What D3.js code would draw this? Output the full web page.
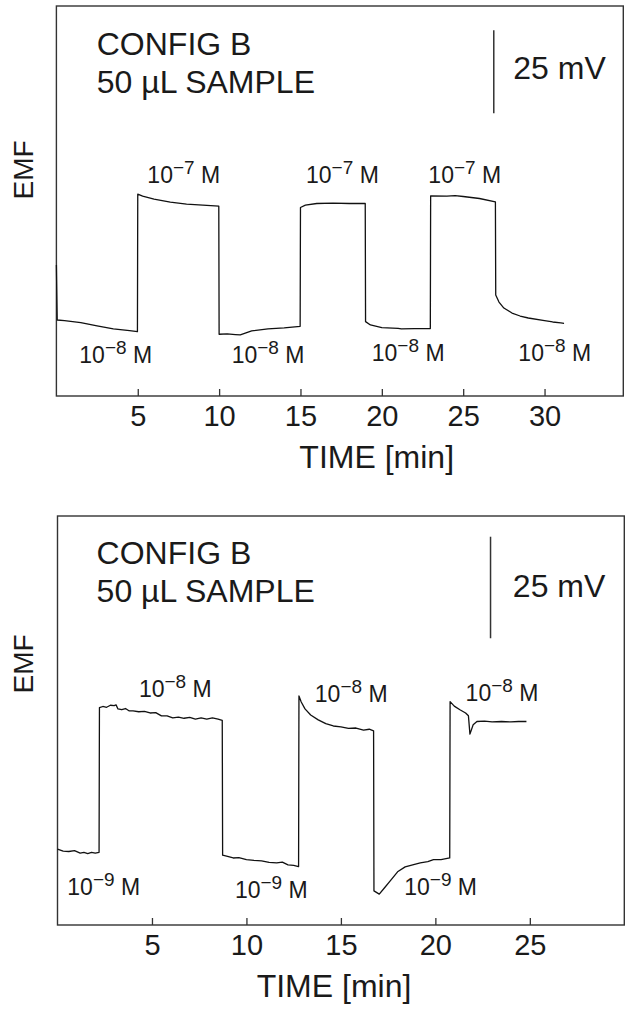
<!DOCTYPE html>
<html>
<head>
<meta charset="utf-8">
<script src="https://cdn.jsdelivr.net/npm/d3@7"></script>
<style>
    body { margin: 0; background: #fff; }
    svg text { font-family: "Liberation Sans", Arial, Helvetica, sans-serif; fill: #1a1a1a; }
</style>
</head>
<body>
<div id="chart"></div>
<script>
// panel A: 10^-8 / 10^-7 M switching, time in min, EMF in mV (relative)
const timeA = [0, 0.05, 0.5, 1.5, 2.5, 3.5, 4.5, 4.98,
    5.0, 5.3, 6, 7, 8, 9, 9.98,
    10.0, 10.5, 11, 11.3, 12, 13, 14, 14.98,
    15.0, 15.3, 16, 17, 18, 18.98,
    19.0, 19.3, 20, 21, 21.2, 22, 22.98,
    23.0, 24, 24.5, 25, 26, 26.98,
    27.0, 27.2, 27.5, 28, 28.5, 29, 30, 30.5, 31, 31.2];
const emfA = [39.5, 22.9, 22.7, 22.1, 21.1, 20.2, 19.7, 19.4,
    60.8, 60.2, 59.3, 58.4, 57.8, 57.5, 57.2,
    18.6, 18.7, 18.5, 18.4, 19.6, 20.2, 20.5, 21.0,
    56.8, 57.5, 58.0, 58.1, 58.0, 58.0,
    22.4, 21.4, 20.6, 20.4, 20.2, 20.3, 20.3,
    60.3, 60.2, 60.4, 60.1, 59.5, 58.5,
    30.4, 28.3, 26.5, 25.0, 24.1, 23.5, 22.7, 22.3, 22.0, 21.9];

// panel B: 10^-9 / 10^-8 M switching
const timeB = [0, 0.3, 0.6, 0.9, 1.2, 1.4, 1.6, 1.8, 2.0, 2.2,
    2.22, 2.4, 2.6, 2.8, 3.0, 3.1, 3.2, 3.4, 3.6, 3.8, 4.0, 4.3, 4.6, 4.9, 5.2,
    5.5, 5.8, 6.1, 6.4, 6.7, 7.0, 7.3, 7.6, 7.9, 8.2, 8.5, 8.72,
    8.74, 9.0, 9.3, 9.6, 10, 10.4, 10.8, 11.2, 11.6, 11.9, 12.2, 12.5, 12.76,
    12.78, 12.9, 13.1, 13.4, 13.8, 14.2, 14.6, 15.0, 15.4, 15.8, 16.2, 16.5, 16.73,
    16.75, 17.03, 17.3, 17.6, 18.0, 18.4, 18.8, 19.2, 19.6, 19.9, 20.3, 20.76,
    20.78, 21.0, 21.3, 21.6, 21.75, 21.83, 22.0, 22.2, 22.6, 23.0, 23.5, 24.0, 24.4, 24.82];
const emfB = [18.7, 18.2, 18.1, 18.3, 17.7, 17.9, 17.6, 17.9, 17.7, 17.9,
    53.5, 53.8, 53.6, 54.1, 54.0, 54.2, 53.2, 53.0, 53.3, 52.7, 52.7, 52.5, 52.6, 52.2, 52.3,
    51.5, 51.5, 51.0, 51.2, 50.9, 51.1, 50.7, 51.0, 50.7, 51.0, 50.7, 50.4,
    17.2, 16.9, 16.5, 16.6, 16.1, 15.9, 15.8, 15.4, 15.3, 15.5, 14.8, 14.7, 14.4,
    56.4, 54.9, 53.2, 51.7, 50.5, 49.6, 49.0, 48.8, 48.4, 48.5, 48.0, 48.2, 47.8,
    8.4, 7.6, 9.1, 10.8, 13.1, 14.3, 14.8, 15.3, 15.6, 16.1, 16.1, 16.5,
    55.0, 53.9, 53.0, 52.2, 51.5, 47.0, 49.3, 50.1, 50.2, 50.0, 50.1, 50.0, 50.1, 50.1];

const ticksA = [5, 10, 15, 20, 25, 30];
const ticksB = [5, 10, 15, 20, 25];

// concentration labels: [time, emf, exponent]
const labelsA = [[5.59, 64.1, "\u22127"], [15.34, 64.1, "\u22127"], [22.86, 64.1, "\u22127"],
    [1.41, 10.0, "\u22128"], [10.77, 10.0, "\u22128"], [19.38, 10.6, "\u22128"], [28.39, 10.6, "\u22128"]];
const labelsB = [[4.31, 56.2, "\u22128"], [13.62, 55.0, "\u22128"], [21.6, 55.2, "\u22128"],
    [0.52, 7.4, "\u22129"], [9.39, 6.65, "\u22129"], [18.35, 7.4, "\u22129"]];

const titleLines = ["CONFIG B", "50 \u00B5L SAMPLE"];
const scaleBarMV = 25;

const panels = [
    {
        time: timeA, emf: emfA, ticks: ticksA, labels: labelsA,
        box: {left: 56.4, top: 6, right: 623.3, bottom: 396},
        xMax: 34.84, yMax: 117.5,
        title: {t: 2.48, v: [102.7, 91.2]},
        bar: {t: 26.88, v: 85.2, text: {t: 28.08, v: 95.5}},
        axisTitleX: 376.7, emfY: 170
    },
    {
        time: timeB, emf: emfB, ticks: ticksB, labels: labelsB,
        box: {left: 57.5, top: 516, right: 624.3, bottom: 925},
        xMax: 30.0, yMax: 100.7,
        title: {t: 2.07, v: [88.9, 79.6]},
        bar: {t: 22.92, v: 70.6, text: {t: 24.1, v: 80.7}},
        axisTitleX: 334, emfY: 664
    }
];

const svg = d3.select("#chart")
    .append("svg")
    .attr("width", 631)
    .attr("height", 1010);

panels.forEach(p => {
    const x = d3.scaleLinear().domain([0, p.xMax]).range([p.box.left, p.box.right]);
    const y = d3.scaleLinear().domain([0, p.yMax]).range([p.box.bottom, p.box.top]);

    const g = svg.append("g");

    // frame
    g.append("rect")
        .attr("x", p.box.left)
        .attr("y", p.box.top)
        .attr("width", p.box.right - p.box.left)
        .attr("height", p.box.bottom - p.box.top)
        .attr("fill", "none")
        .attr("stroke", "#333")
        .attr("stroke-width", 1.4);

    const xAxis = d3.axisBottom(x)
        .tickValues(p.ticks)
        .tickFormat(d3.format("d"))
        .tickSizeInner(-7)
        .tickSizeOuter(0)
        .tickPadding(9);

    const ax = g.append("g")
        .attr("transform", "translate(0," + p.box.bottom + ")")
        .call(xAxis);
    ax.select(".domain").remove();
    ax.selectAll(".tick line").attr("stroke", "#333").attr("stroke-width", 1.3);
    ax.selectAll(".tick text")
        .attr("font-size", 29)
        .attr("font-family", null)
        .attr("fill", "#1a1a1a");

    g.append("text")
        .attr("x", p.axisTitleX)
        .attr("y", p.box.bottom + 72)
        .attr("text-anchor", "middle")
        .attr("font-size", 32)
        .text("TIME [min]");

    g.append("text")
        .attr("transform", "translate(33," + p.emfY + ") rotate(-90)")
        .attr("text-anchor", "middle")
        .attr("font-size", 28)
        .text("EMF");

    // trace
    const line = d3.line()
        .x((d, i) => x(p.time[i]))
        .y(d => y(d));
    g.append("path")
        .datum(p.emf)
        .attr("d", line)
        .attr("fill", "none")
        .attr("stroke", "#111")
        .attr("stroke-width", 1.3)
        .attr("stroke-linejoin", "round");

    // config title
    titleLines.forEach((s, i) => {
        g.append("text")
            .attr("x", x(p.title.t))
            .attr("y", y(p.title.v[i]))
            .attr("font-size", 32)
            .text(s);
    });

    // scale bar
    g.append("line")
        .attr("x1", x(p.bar.t))
        .attr("x2", x(p.bar.t))
        .attr("y1", y(p.bar.v))
        .attr("y2", y(p.bar.v + scaleBarMV))
        .attr("stroke", "#333")
        .attr("stroke-width", 1.5);
    g.append("text")
        .attr("x", x(p.bar.text.t))
        .attr("y", y(p.bar.text.v))
        .attr("font-size", 32)
        .text(scaleBarMV + " mV");

    // concentration labels
    p.labels.forEach(l => {
        const t = g.append("text")
            .attr("x", x(l[0]))
            .attr("y", y(l[1]))
            .attr("font-size", 23);
        t.append("tspan").text("10");
        t.append("tspan").attr("dy", -9).attr("font-size", 19).text(l[2]);
        t.append("tspan").attr("dy", 9).text(" M");
    });
});
</script>
</body>
</html>
